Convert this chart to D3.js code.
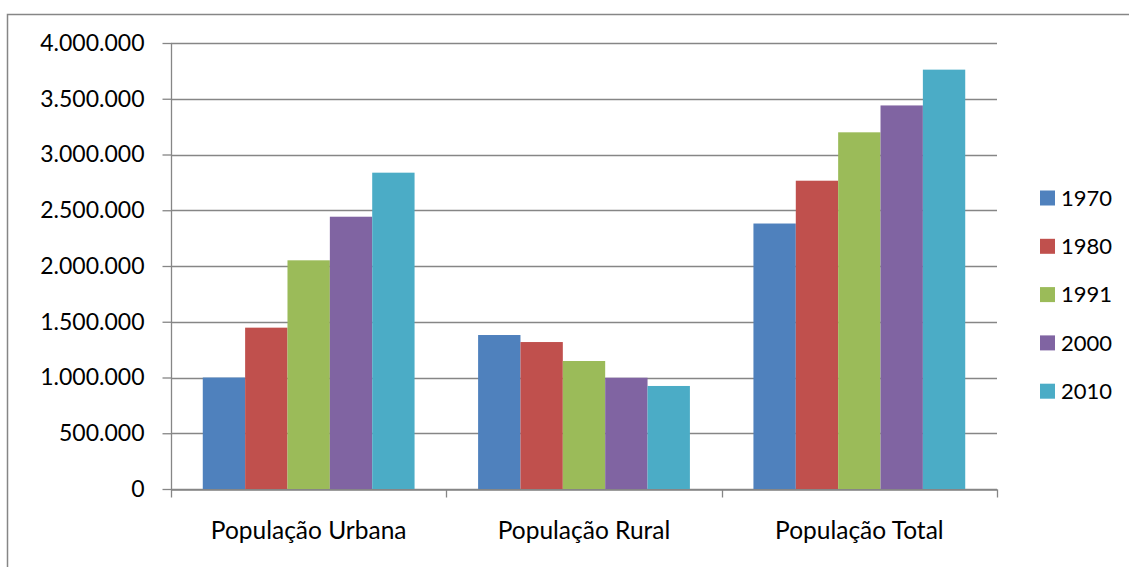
<!DOCTYPE html>
<html>
<head>
<meta charset="utf-8">
<script src="https://cdn.jsdelivr.net/npm/d3@7"></script>
<style>
  body { margin: 0; background: #fff; }
  text { font-family: Lato, "Open Sans", sans-serif; fill: #000; }
</style>
</head>
<body>
<div id="chart"></div>
<script>
// categories on x, one bar per census year
const categories = ["População Urbana", "População Rural", "População Total"];
const years = ["1970", "1980", "1991", "2000", "2010"];
const colors = ["#4F81BD", "#C0504D", "#9BBB59", "#8064A2", "#4BACC6"];

// values per year, same order as categories
const v1970 = [1000000, 1381000, 2381000];
const v1980 = [1447000, 1318000, 2765000];
const v1991 = [2051000, 1148000, 3199000];
const v2000 = [2442000, 998000, 3440000];
const v2010 = [2837000, 924000, 3761000];
const series = [v1970, v1980, v1991, v2000, v2010];

const yTicks = [0, 500000, 1000000, 1500000, 2000000, 2500000, 3000000, 3500000, 4000000];

const W = 1129, H = 567;
const plot = {left: 171, top: 43, right: 997, bottom: 489};
const gridColor = "#868686";

const ptBR = d3.formatLocale({decimal: ",", thousands: ".", grouping: [3], currency: ["R$", ""]});
const fmt = ptBR.format(",d");

const svg = d3.select("#chart").append("svg")
  .attr("width", W).attr("height", H);

// outer chart border
svg.append("rect")
  .attr("x", 7.5).attr("y", 14.5)
  .attr("width", W + 20).attr("height", H + 20)
  .attr("fill", "none").attr("stroke", gridColor).attr("stroke-width", 1.5);

const x0 = d3.scaleBand().domain(categories).range([plot.left, plot.right]);
const x1 = d3.scaleBand().domain(years).range([0, x0.bandwidth()]).paddingOuter(0.75);
const y = d3.scaleLinear().domain([0, 4000000]).range([plot.bottom, plot.top]);

// gridlines
svg.append("g").selectAll("line").data(yTicks).enter().append("line")
  .attr("x1", plot.left).attr("x2", plot.right)
  .attr("y1", d => Math.round(y(d)) + 0.5).attr("y2", d => Math.round(y(d)) + 0.5)
  .attr("stroke", gridColor).attr("stroke-width", 1.3);

// bars
const rows = categories.map((c, i) => ({cat: c, vals: years.map((yr, j) => ({year: yr, j: j, v: series[j][i]}))}));
const groups = svg.append("g").selectAll("g").data(rows).enter().append("g")
  .attr("transform", d => `translate(${x0(d.cat)},0)`);
groups.selectAll("rect").data(d => d.vals).enter().append("rect")
  .attr("x", d => x1(d.year))
  .attr("width", x1.bandwidth())
  .attr("y", d => y(d.v))
  .attr("height", d => y(0) - y(d.v))
  .attr("fill", d => colors[d.j]);

// y axis
const yAxis = svg.append("g")
  .attr("transform", `translate(${plot.left + 0.5},0)`)
  .call(d3.axisLeft(y).tickValues(yTicks).tickFormat(fmt).tickSize(9).tickPadding(18));
yAxis.selectAll("line, path").attr("stroke", gridColor).attr("stroke-width", 1.3);
yAxis.select(".domain").attr("d", `M0,${plot.top}V${plot.bottom}`);
yAxis.selectAll("text").style("font-size", "23px").attr("fill", "#000");

// x axis: labels at band centres, ticks at band edges
const xAxis = svg.append("g")
  .attr("transform", `translate(0,${Math.round(plot.bottom) + 0.5})`)
  .call(d3.axisBottom(x0).tickSize(0).tickPadding(32));
xAxis.select(".domain").attr("stroke", gridColor).attr("stroke-width", 1.3);
xAxis.selectAll("text").style("font-size", "24.5px").attr("fill", "#000");
const edges = categories.map(c => x0(c)).concat([plot.right]);
xAxis.selectAll(".edge").data(edges).enter().append("line")
  .attr("class", "edge")
  .attr("x1", d => Math.round(d) + 0.5).attr("x2", d => Math.round(d) + 0.5)
  .attr("y1", 0).attr("y2", 8)
  .attr("stroke", gridColor).attr("stroke-width", 1.3);

// legend
const legend = svg.append("g").attr("transform", "translate(1040,198)");
const items = legend.selectAll("g").data(years).enter().append("g")
  .attr("transform", (d, i) => `translate(0,${i * 48.3})`);
items.append("rect")
  .attr("x", 0).attr("y", -7.5).attr("width", 15).attr("height", 15)
  .attr("fill", (d, i) => colors[i]);
items.append("text")
  .attr("x", 21).attr("dy", "0.35em")
  .style("font-size", "22px")
  .text(d => d);
</script>
</body>
</html>
